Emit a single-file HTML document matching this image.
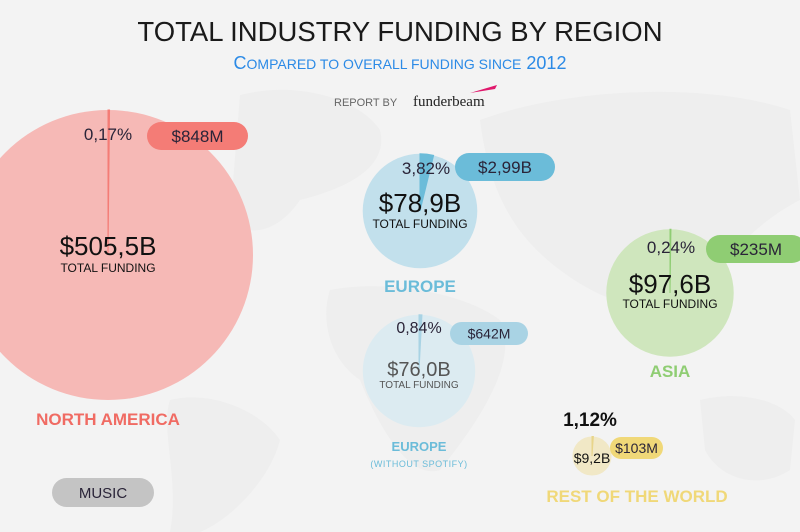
<!DOCTYPE html>
<html><head><meta charset="utf-8"><style>
html,body{margin:0;padding:0;background:#f3f3f3;}
svg{display:block;font-family:"Liberation Sans",sans-serif;}
</style></head><body>
<svg id="chart" width="800" height="532" viewBox="0 0 800 532">
<rect width="800" height="532" fill="#f3f3f3"/>
<g fill="#eeeeee">
<path d="M240,95 C300,80 360,100 380,130 C390,170 340,190 300,200 C280,230 250,240 230,220 Z"/>
<path d="M170,400 C210,390 260,410 280,440 C270,480 230,520 200,532 L170,532 C180,480 160,430 170,400 Z"/>
<path d="M330,290 C380,280 460,290 500,320 C520,360 480,420 440,470 C410,480 380,430 360,380 C330,360 320,320 330,290 Z"/>
<path d="M480,120 C560,90 700,80 790,110 L800,200 C760,220 720,260 700,300 C650,320 600,300 560,270 C520,240 490,200 480,120 Z"/>
<path d="M700,400 C740,390 780,400 795,420 L790,470 C760,490 720,480 705,450 Z"/>
</g>
<text x="400" y="41" text-anchor="middle" font-size="27.5" fill="#1a1a1a">TOTAL INDUSTRY FUNDING BY REGION</text>
<text x="400" y="69" text-anchor="middle" font-size="18" fill="#2b8ae6">C<tspan font-size="14">OMPARED TO OVERALL FUNDING SINCE</tspan> 2012</text>
<text x="334" y="106" font-size="11" fill="#666">REPORT BY</text>
<text x="413" y="106" font-size="15" font-family="Liberation Serif,serif" fill="#222">funderbeam</text>
<path d="M470,93 L497,85 L495,89 Z" fill="#e0186c"/>
<g id="marks"></g>
<rect x="52" y="478" width="102" height="29" rx="14.5" fill="#c4c4c4"/>
<text x="103" y="498" text-anchor="middle" font-size="15" fill="#2a2438">MUSIC</text>
</svg>
<script>
const regions = ["North America","Europe","Asia","Europe (without Spotify)","Rest of the World"];
const totals = [505.5, 78.9, 97.6, 76.0, 9.2];
const totalLabels = ["$505,5B","$78,9B","$97,6B","$76,0B","$9,2B"];
const percents = [0.17, 3.82, 0.24, 0.84, 1.12];
const percentLabels = ["0,17%","3,82%","0,24%","0,84%","1,12%"];
const musicLabels = ["$848M","$2,99B","$235M","$642M","$103M"];

const layout = [
 {cx:108,cy:255,fill:"#f6b9b6",slice:"#f47c76",pill:"#f47c76",name:"NORTH AMERICA",nameColor:"#f06b63",nameY:425,pctX:108,pctY:140,pctSize:17,pillX:147,pillY:122,pillW:101,pillH:28,pillFs:17,totFs:26,totY:255,subFs:12,subY:272,sub:"TOTAL FUNDING"},
 {cx:420,cy:211,fill:"#c2e0ec",slice:"#6bbcd9",pill:"#6bbcd9",name:"EUROPE",nameColor:"#6bbcd9",nameY:292,pctX:426,pctY:174,pctSize:17,pillX:455,pillY:153,pillW:100,pillH:28,pillFs:17,totFs:26,totY:212,subFs:12,subY:228,sub:"TOTAL FUNDING"},
 {cx:670,cy:293,fill:"#cfe6bd",slice:"#8fcd73",pill:"#8fcd73",name:"ASIA",nameColor:"#8fcd73",nameY:377,pctX:671,pctY:253,pctSize:17,pillX:706,pillY:235,pillW:100,pillH:28,pillFs:17,totFs:26,totY:293,subFs:12,subY:308,sub:"TOTAL FUNDING"},
 {cx:419,cy:371,fill:"#dcebf1",slice:"#a9d3e4",pill:"#a9d3e4",name:"EUROPE",nameColor:"#6bbcd9",nameY:451,pctX:419,pctY:333,pctSize:16,pillX:450,pillY:322,pillW:78,pillH:23,pillFs:14,totFs:20,totY:376,subFs:10,subY:388,sub:"TOTAL FUNDING"},
 {cx:592,cy:456,fill:"#f1e8c6",slice:"#e8d58a",pill:"#f0d878",name:"REST OF THE WORLD",nameColor:"#f0d878",nameY:502,pctX:590,pctY:426,pctSize:19,pillX:610,pillY:437,pillW:53,pillH:22,pillFs:14,totFs:14,totY:463,subFs:0,subY:0,sub:""}
];
const k = 145/Math.sqrt(505.5);
const rScale = v => k*Math.sqrt(v);
const NS="http://www.w3.org/2000/svg";
const g=document.getElementById("marks");
function mk(tag,attrs,parent){const e=document.createElementNS(NS,tag);for(const a in attrs)e.setAttribute(a,attrs[a]);(parent||g).appendChild(e);return e;}
function txt(x,y,s,fs,fill,extra){const t=mk("text",Object.assign({x:x,y:y,"font-size":fs,fill:fill,"text-anchor":"middle"},extra||{}));t.textContent=s;return t;}
regions.forEach((reg,i)=>{
 const L=layout[i], r=rScale(totals[i]);
 const c=mk("circle",{cx:L.cx,cy:L.cy,r:r,fill:L.fill});
 
 
 const a=percents[i]/100*2*Math.PI;
 const x1=L.cx+r*Math.sin(a), y1=L.cy-r*Math.cos(a);
 const w=mk("path",{d:`M${L.cx},${L.cy} L${L.cx},${L.cy-r} A${r},${r} 0 0 1 ${x1},${y1} Z`,fill:L.slice,stroke:L.slice,"stroke-width":1});
 
 
 const p=txt(L.pctX,L.pctY,percentLabels[i],L.pctSize,i==4?"#111":"#2a2438",{"font-weight":i==4?"bold":"normal"});
 
 
 const pr=mk("rect",{x:L.pillX,y:L.pillY,width:L.pillW,height:L.pillH,rx:L.pillH/2,fill:L.pill});
 
 
 const pt=txt(L.pillX+L.pillW/2,L.pillY+L.pillH/2+L.pillFs*0.36,musicLabels[i],L.pillFs,"#2a2438");
 
 
 const tt=txt(L.cx,L.totY,totalLabels[i],L.totFs,i==3?"#555":"#111");
 
 
 if(L.sub){const st=txt(L.cx,L.subY,L.sub,L.subFs,i==3?"#555":"#111");
 
 }
 const nx = i==4?637:(i==0?108:L.cx);
 const nt=txt(nx,L.nameY,L.name,i==3?13:17,L.nameColor,{"font-weight":"bold"});
 
 
 if(i==3){const s=txt(L.cx,467,"(WITHOUT SPOTIFY)",9,L.nameColor,{"letter-spacing":"0.5"});
 
 }
});
</script>
</body></html>
